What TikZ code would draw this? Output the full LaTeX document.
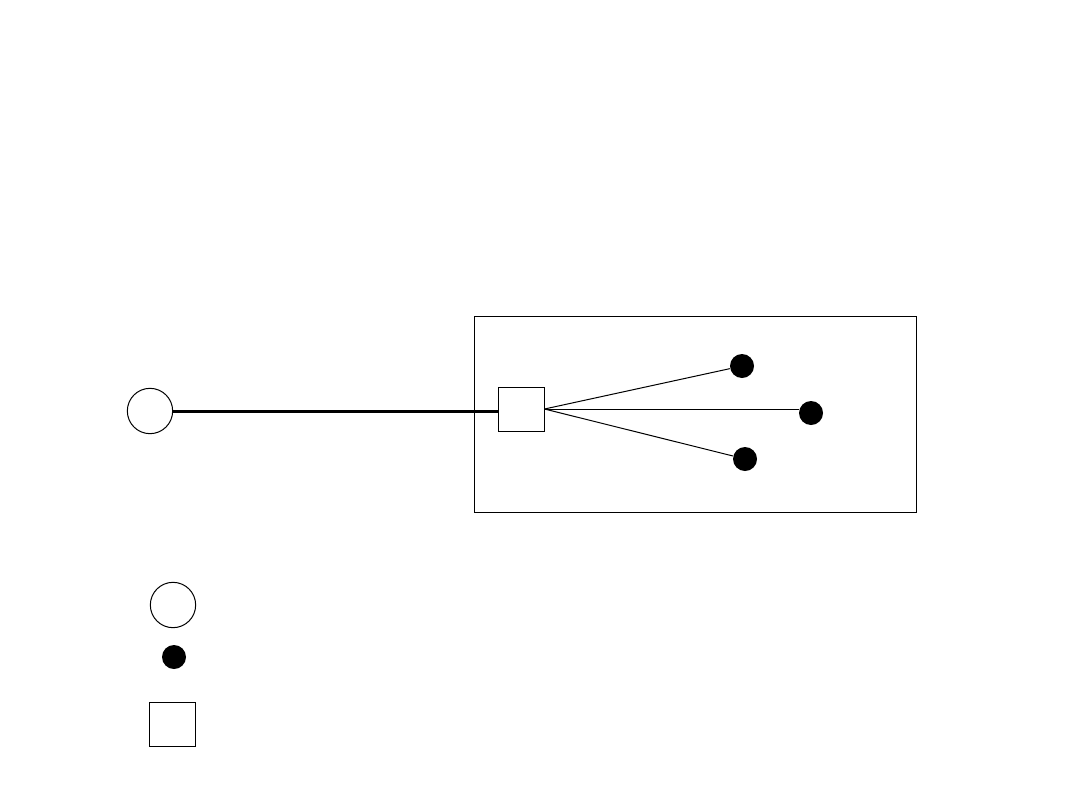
\documentclass[tikz,border=0pt]{standalone}
\usetikzlibrary{positioning}
\tikzset{every picture/.style={line width=0.75pt}}
\begin{document}
\begin{tikzpicture}[x=0.75pt,y=0.75pt,yscale=-1,xscale=1]
\tikzset{
  src/.style={draw,circle,minimum size=34pt,inner sep=0pt},
  leaf/.style={circle,fill=black,minimum size=18pt,inner sep=0pt},
  hub/.style={draw,rectangle,minimum width=34.5pt,minimum height=33pt,inner sep=0pt}
}
\useasboundingbox (0,0) rectangle (1080,810);

%Shape: Rectangle [id:frame]
\draw (474,316) rectangle (916,512);

% Nodes
\node[src] (s) at (150,411) {};
\node[hub] (h) at (521,409) {};
\node[leaf] (d1) at (742,366) {};
\node[leaf] (d2) at (811,413) {};
\node[leaf] (d3) at (745,459) {};

% Lines
\draw[line width=2.25pt] (s.east) -- (s.east -| h.west);
\draw (h.east) -- (d1);
\draw (h.east) -- (h.east -| d2.west);
\draw (h.east) -- (d3);

% Legend
\node[src] (ls) at (173,605) {};
\node[leaf] (ll) at (174,657) {};
\node[hub] (lh) at (172.5,724) {};

\end{tikzpicture}
\end{document}
